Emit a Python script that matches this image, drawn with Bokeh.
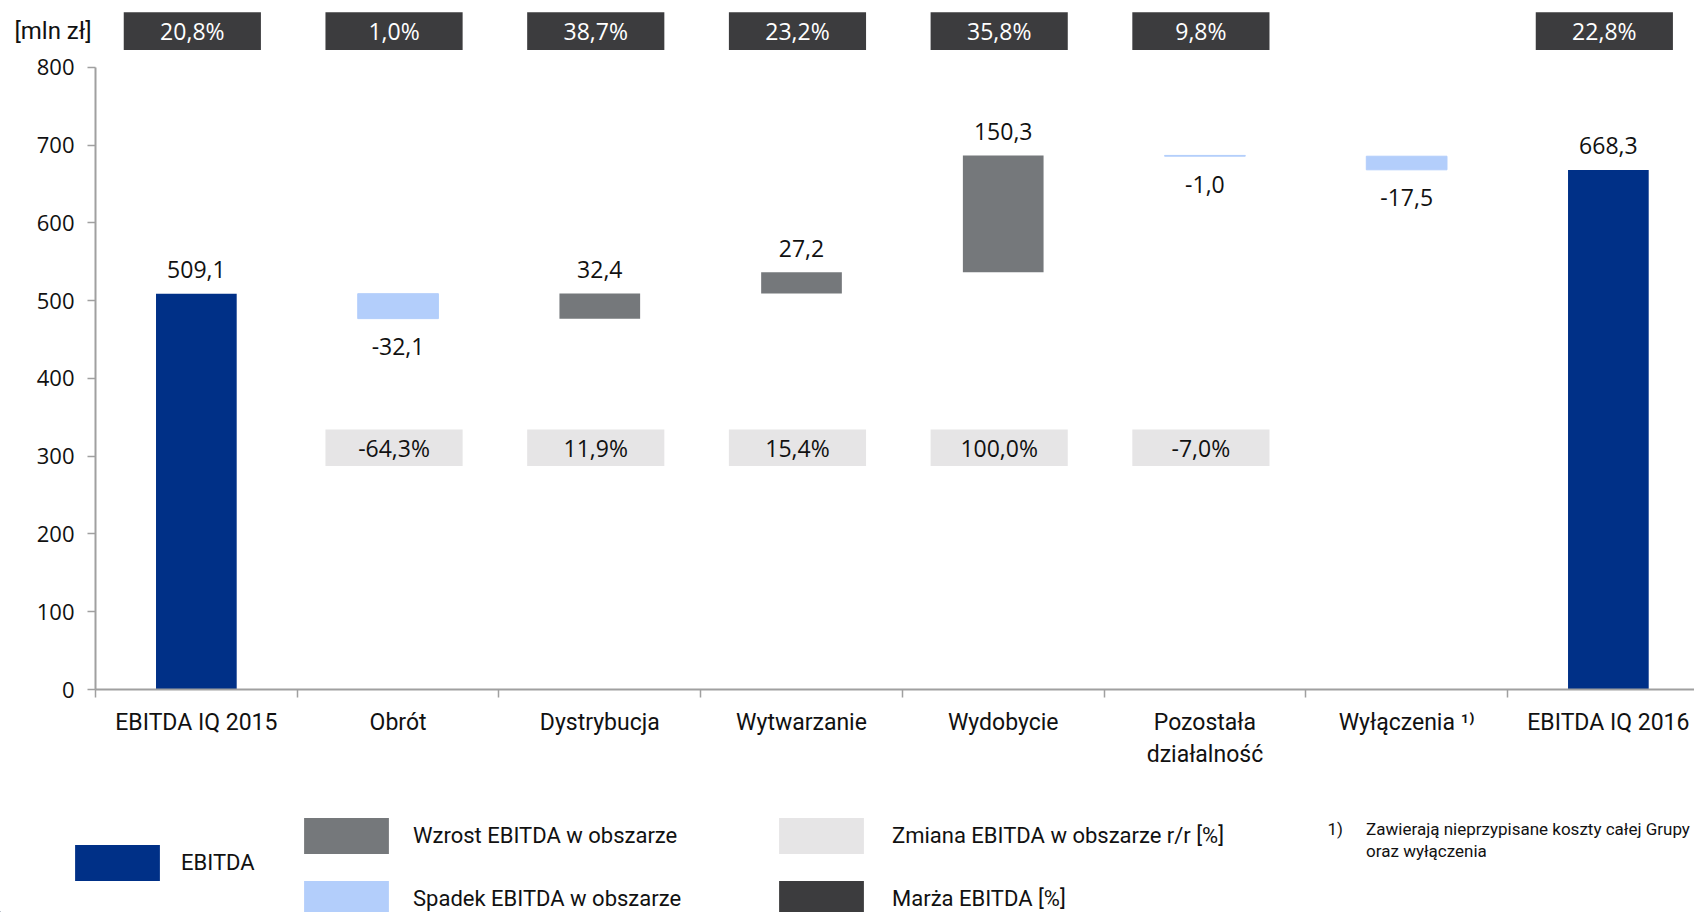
from bokeh.plotting import figure
from bokeh.layouts import column
from bokeh.models import (ColumnDataSource, Range1d, FixedTicker, Legend,
                          LegendItem)
from bokeh.embed import file_html
from bokeh.resources import INLINE
from bokeh.core.properties import value

# ---------------- data ----------------
categories = ["EBITDA IQ 2015", "Obrót", "Dystrybucja", "Wytwarzanie",
              "Wydobycie", "Pozostała\ndziałalność", "Wyłączenia ¹⁾",
              "EBITDA IQ 2016"]
kinds = ["total", "delta", "delta", "delta", "delta", "delta", "delta", "total"]
values = [509.1, -32.1, 32.4, 27.2, 150.3, -1.0, -17.5, 668.3]
value_labels = ["509,1", "-32,1", "32,4", "27,2", "150,3", "-1,0", "-17,5", "668,3"]
margin_labels = ["20,8%", "1,0%", "38,7%", "23,2%", "35,8%", "9,8%", None, "22,8%"]
change_labels = [None, "-64,3%", "11,9%", "15,4%", "100,0%", "-7,0%", None, None]
y_ticks = [0, 100, 200, 300, 400, 500, 600, 700, 800]
unit_label = "[mln zł]"
legend_labels = ["EBITDA", "Wzrost EBITDA w obszarze", "Spadek EBITDA w obszarze",
                 "Zmiana EBITDA w obszarze r/r [%]", "Marża EBITDA [%]"]
footnote_mark = "1)"
footnote_lines = ["Zawierają nieprzypisane koszty całej Grupy", "oraz wyłączenia"]

# ---------------- styles ----------------
NAVY = "#003087"
GROWTH = "#75787B"
DECLINE = "#B3CEFB"
LIGHT_BOX = "#E6E5E6"
DARK_BOX = "#3C3C3E"
AXIS = "#A0A0A0"
TXT = "#111111"
NUM_FONT = "Open Sans"
LBL_FONT = "Roboto"

W = 1694
X_LEFT = -0.4710          # data x at the left canvas edge
X_RIGHT = 7.927           # data x at the right canvas edge

# ---------------- waterfall geometry from data ----------------
xs, bottoms, tops = [], [], []
running = 0.0
for i, (k, v) in enumerate(zip(kinds, values)):
    xs.append(i + 0.5)
    if k == "total":
        b, t = 0.0, v
        running = v
    else:
        start = running
        end = running + v
        b, t = min(start, end), max(start, end)
        running = end
    bottoms.append(b)
    tops.append(t)

def subset(pred):
    idx = [i for i in range(len(values)) if pred(i)]
    return dict(x=[xs[i] for i in idx], bottom=[bottoms[i] for i in idx],
                top=[tops[i] for i in idx])

src_total = ColumnDataSource(subset(lambda i: kinds[i] == "total"))
src_up = ColumnDataSource(subset(lambda i: kinds[i] == "delta" and values[i] > 0))
src_down = ColumnDataSource(subset(lambda i: kinds[i] == "delta" and values[i] < 0))

pos_idx = [i for i in range(len(values)) if values[i] > 0]
neg_idx = [i for i in range(len(values)) if values[i] < 0]
src_lbl_pos = ColumnDataSource(dict(x=[xs[i] for i in pos_idx],
                                    y=[tops[i] for i in pos_idx],
                                    t=[value_labels[i] for i in pos_idx]))
src_lbl_neg = ColumnDataSource(dict(x=[xs[i] for i in neg_idx],
                                    y=[bottoms[i] for i in neg_idx],
                                    t=[value_labels[i] for i in neg_idx]))

BOX_SHIFT = -0.02
BOX_W = 0.68
m_idx = [i for i in range(len(values)) if margin_labels[i]]
src_margin = ColumnDataSource(dict(x=[xs[i] + BOX_SHIFT for i in m_idx],
                                   t=[margin_labels[i] for i in m_idx]))
c_idx = [i for i in range(len(values)) if change_labels[i]]
src_change = ColumnDataSource(dict(x=[xs[i] + BOX_SHIFT for i in c_idx],
                                   t=[change_labels[i] for i in c_idx]))

# ---------------- top strip: unit label + EBITDA margin boxes ----------------
top = figure(width=W, height=50, output_backend="svg", toolbar_location=None,
             x_range=Range1d(X_LEFT, X_RIGHT), y_range=Range1d(821.9, 886.2),
             x_axis_type=None, y_axis_type=None, min_border=0, frame_align=False)
top.outline_line_color = None
top.grid.visible = False
r_margin = top.rect(x="x", y=846.5, width=BOX_W, height=49, source=src_margin,
                    fill_color=DARK_BOX, line_color=None)
top.text(x="x", y=846.5, text="t", source=src_margin, text_align="center",
         text_baseline="middle", text_font=value(NUM_FONT), text_font_size="23px",
         text_color="white")
top.text(x=[-0.2107], y=[847.6], text=[unit_label], text_align="center",
         text_baseline="middle", text_font=value(LBL_FONT), text_font_size="24px",
         text_color=TXT)

# ---------------- main chart ----------------
p = figure(width=W, height=734, output_backend="svg", toolbar_location=None,
           x_range=Range1d(0, X_RIGHT), y_range=Range1d(0, 809.0),
           min_border_left=95, min_border_right=0, min_border_top=10,
           min_border_bottom=95, frame_align=False)
p.outline_line_color = None
p.grid.visible = False

BAR_W = 0.40
p.vbar(x="x", bottom="bottom", top="top", width=BAR_W, source=src_total,
       fill_color=NAVY, line_color=None)
p.vbar(x="x", bottom="bottom", top="top", width=BAR_W, source=src_up,
       fill_color=GROWTH, line_color=None)
p.vbar(x="x", bottom="bottom", top="top", width=BAR_W, source=src_down,
       fill_color=DECLINE, line_color=DECLINE, line_width=1)

p.text(x="x", y="y", text="t", source=src_lbl_pos, text_align="center",
       text_baseline="middle", y_offset=-24, text_font=value(NUM_FONT),
       text_font_size="23px", text_color=TXT)
p.text(x="x", y="y", text="t", source=src_lbl_neg, text_align="center",
       text_baseline="middle", y_offset=28, text_font=value(NUM_FONT),
       text_font_size="23px", text_color=TXT)

p.rect(x="x", y=311, width=BOX_W, height=47, source=src_change,
       fill_color=LIGHT_BOX, line_color=None)
p.text(x="x", y=311, text="t", source=src_change, text_align="center",
       text_baseline="middle", text_font=value(NUM_FONT), text_font_size="23px",
       text_color=TXT)

ya = p.yaxis[0]
ya.ticker = FixedTicker(ticks=y_ticks)
ya.bounds = (0, 800)
ya.axis_line_color = AXIS
ya.axis_line_width = 2
ya.major_tick_line_color = AXIS
ya.major_tick_line_width = 1.5
ya.major_tick_out = 8
ya.major_tick_in = 0
ya.minor_tick_line_color = None
ya.major_label_standoff = 13
ya.major_label_text_font = NUM_FONT
ya.major_label_text_font_size = "22px"
ya.major_label_text_color = TXT

xa = p.xaxis[0]
xa.ticker = FixedTicker(ticks=xs, minor_ticks=list(range(len(categories) + 1)))
xa.major_label_overrides = {x: c for x, c in zip(xs, categories)}
xa.axis_line_color = AXIS
xa.axis_line_width = 2
xa.major_tick_line_color = None
xa.major_tick_out = 0
xa.major_tick_in = 0
xa.minor_tick_line_color = AXIS
xa.minor_tick_line_width = 1.5
xa.minor_tick_out = 8
xa.minor_tick_in = 0
xa.major_label_standoff = 11
xa.major_label_text_font = LBL_FONT
xa.major_label_text_font_size = "23px"
xa.major_label_text_color = TXT

# ---------------- legend strip ----------------
LEG_H = 128
leg = figure(width=W, height=LEG_H, output_backend="svg", toolbar_location=None,
             x_range=Range1d(X_LEFT, X_RIGHT), y_range=Range1d(0, LEG_H),
             x_axis_type=None, y_axis_type=None, min_border=0, frame_align=False)
leg.outline_line_color = None
leg.grid.visible = False

def swatch(color):
    # legend proxy: one mark placed outside the visible range
    return leg.vbar(x=[X_LEFT - 10], bottom=[0], top=[1], width=0.4,
                    fill_color=color, line_color=None)

sw_total = swatch(NAVY)
sw_up = swatch(GROWTH)
sw_down = swatch(DECLINE)
sw_change = swatch(LIGHT_BOX)
sw_margin = swatch(DARK_BOX)

def make_legend(items, loc, standoff, spacing):
    return Legend(items=items, location=loc, orientation="vertical",
                  glyph_width=106, glyph_height=45, label_standoff=standoff,
                  spacing=spacing, padding=0, margin=0, border_line_color=None,
                  background_fill_alpha=0, label_text_font=LBL_FONT,
                  label_text_font_size="22px", label_text_color=TXT,
                  label_height=45)

leg.add_layout(make_legend([LegendItem(label=legend_labels[0], renderers=[sw_total])],
                           (64, 27), 11, 0), "center")
leg.add_layout(make_legend([LegendItem(label=legend_labels[1], renderers=[sw_up]),
                            LegendItem(label=legend_labels[2], renderers=[sw_down])],
                           (293, -9), 14, 18), "center")
leg.add_layout(make_legend([LegendItem(label=legend_labels[3], renderers=[sw_change]),
                            LegendItem(label=legend_labels[4], renderers=[sw_margin])],
                           (768, -9), 18, 18), "center")

leg.text(x=[6.107], y=[83.3], text=[footnote_mark], text_baseline="middle",
         text_font=value(LBL_FONT), text_font_size="17px", text_color=TXT)
leg.text(x=[6.299, 6.299], y=[83.3, 62.0], text=footnote_lines,
         text_baseline="middle", text_font=value(LBL_FONT),
         text_font_size="17px", text_color=TXT)

layout = column(top, p, leg, spacing=0)
open("out.html", "w").write(file_html(layout, INLINE))
